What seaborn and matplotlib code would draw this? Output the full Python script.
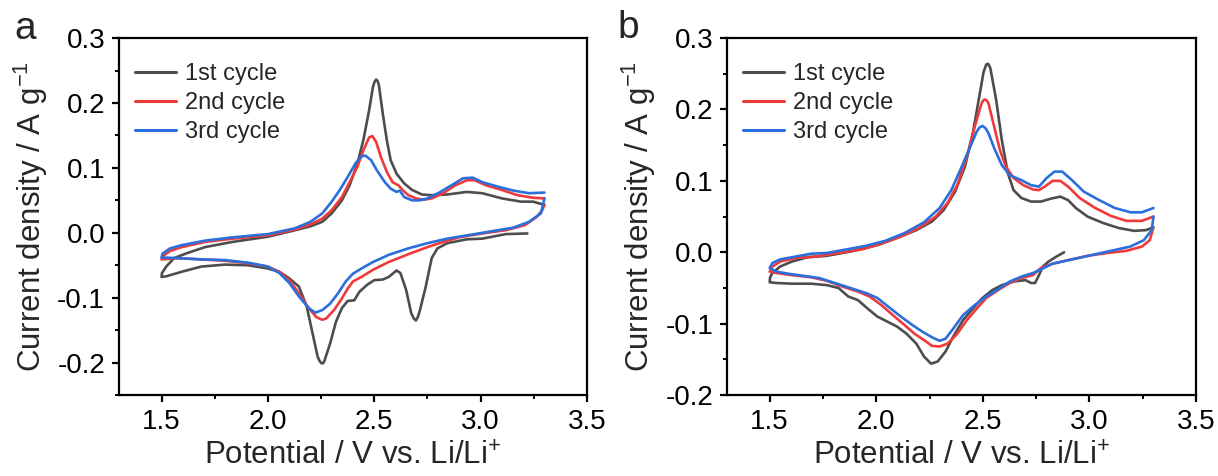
import matplotlib
matplotlib.use("Agg")
import matplotlib.pyplot as plt
from matplotlib.ticker import AutoMinorLocator
import seaborn as sns

# ---- cyclic voltammetry data (potential in V vs. Li/Li+, current in A/g) ----
# panel a
pot_a1 = [3.22, 3.118, 3.008, 2.935, 2.843, 2.797, 2.77, 2.742, 2.715, 2.705, 2.696, 2.686, 2.674, 2.65,
          2.623, 2.605, 2.568, 2.54, 2.50, 2.467, 2.43, 2.406, 2.375, 2.348, 2.32, 2.293, 2.265, 2.259,
          2.252, 2.244, 2.234, 2.21, 2.183, 2.146, 2.10, 2.054, 2.0, 1.907, 1.797, 1.687, 1.595, 1.522, 1.5,
          1.502, 1.522, 1.559, 1.614, 1.705, 1.834, 2.0, 2.128, 2.20, 2.256, 2.30, 2.348, 2.384, 2.421,
          2.449, 2.476, 2.494, 2.502, 2.509, 2.516, 2.522, 2.54, 2.559, 2.577, 2.605, 2.641, 2.678, 2.724,
          2.77, 2.843, 2.935, 3.008, 3.10, 3.19, 3.247, 3.30]
cur_a1 = [-0.001, -0.002, -0.009, -0.010, -0.016, -0.024, -0.039, -0.083, -0.119, -0.130, -0.135, -0.132,
          -0.124, -0.088, -0.062, -0.058, -0.068, -0.072, -0.073, -0.080, -0.091, -0.104, -0.105, -0.116,
          -0.137, -0.170, -0.198, -0.201, -0.201, -0.198, -0.191, -0.155, -0.114, -0.083, -0.070, -0.060,
          -0.055, -0.050, -0.049, -0.052, -0.060, -0.067, -0.068,
          -0.062, -0.052, -0.039, -0.032, -0.022, -0.014, -0.006, 0.004, 0.010, 0.017, 0.030, 0.050, 0.073,
          0.107, 0.143, 0.189, 0.225, 0.233, 0.236, 0.234, 0.227, 0.184, 0.143, 0.112, 0.091, 0.076, 0.066,
          0.059, 0.058, 0.059, 0.063, 0.061, 0.053, 0.048, 0.048, 0.043]

pot_a2 = [3.30, 3.29, 3.265, 3.21, 3.118, 3.008, 2.898, 2.825, 2.75, 2.66, 2.568, 2.494, 2.44, 2.40, 2.375,
          2.348, 2.311, 2.274, 2.256, 2.228, 2.192, 2.146, 2.10, 2.054, 2.0, 1.907, 1.797, 1.687, 1.577, 1.5,
          1.502, 1.54, 1.595, 1.705, 1.834, 2.0, 2.128, 2.20, 2.256, 2.30, 2.348, 2.384, 2.421, 2.449, 2.476,
          2.491, 2.509, 2.531, 2.559, 2.586, 2.614, 2.633, 2.66, 2.696, 2.733, 2.77, 2.825, 2.88, 2.935,
          2.972, 3.027, 3.10, 3.173, 3.247, 3.30]
cur_a2 = [0.043, 0.035, 0.025, 0.012, 0.004, -0.001, -0.007, -0.014, -0.022, -0.033, -0.045, -0.057, -0.068,
          -0.075, -0.086, -0.101, -0.119, -0.132, -0.134, -0.130, -0.116, -0.093, -0.073, -0.060, -0.052,
          -0.047, -0.043, -0.041, -0.039, -0.041,
          -0.037, -0.028, -0.022, -0.014, -0.009, -0.004, 0.005, 0.013, 0.022, 0.035, 0.055, 0.078, 0.102,
          0.127, 0.147, 0.149, 0.140, 0.117, 0.094, 0.078, 0.073, 0.066, 0.058, 0.053, 0.051, 0.053, 0.061,
          0.073, 0.081, 0.081, 0.073, 0.066, 0.058, 0.054, 0.053]

pot_a3 = [3.30, 3.284, 3.228, 3.155, 3.045, 2.935, 2.843, 2.75, 2.66, 2.568, 2.494, 2.44, 2.40, 2.366, 2.33,
          2.293, 2.256, 2.223, 2.192, 2.146, 2.10, 2.054, 2.0, 1.907, 1.797, 1.687, 1.577, 1.5,
          1.505, 1.54, 1.595, 1.705, 1.834, 2.0, 2.128, 2.20, 2.256, 2.30, 2.338, 2.375, 2.412, 2.44, 2.458,
          2.485, 2.513, 2.55, 2.577, 2.605, 2.62, 2.641, 2.678, 2.715, 2.75, 2.806, 2.862, 2.917, 2.963,
          3.008, 3.082, 3.155, 3.228, 3.30]
cur_a3 = [0.053, 0.030, 0.017, 0.008, 0.002, -0.004, -0.009, -0.016, -0.024, -0.034, -0.045, -0.055, -0.063,
          -0.075, -0.093, -0.109, -0.119, -0.123, -0.116, -0.098, -0.077, -0.062, -0.052, -0.046, -0.042,
          -0.041, -0.039, -0.038,
          -0.032, -0.024, -0.019, -0.012, -0.007, -0.002, 0.007, 0.017, 0.030, 0.048, 0.066, 0.086, 0.107,
          0.118, 0.119, 0.112, 0.096, 0.078, 0.068, 0.063, 0.065, 0.055, 0.050, 0.050, 0.053, 0.062, 0.073,
          0.084, 0.085, 0.078, 0.071, 0.065, 0.061, 0.062]

# panel b
pot_b1 = [2.881, 2.845, 2.808, 2.781, 2.763, 2.745, 2.726, 2.70, 2.644, 2.589, 2.544, 2.498, 2.453, 2.407,
          2.361, 2.325, 2.288, 2.257, 2.224, 2.188, 2.142, 2.097, 2.051, 2.005, 1.96, 1.914, 1.869, 1.823,
          1.768, 1.695, 1.604, 1.531, 1.5,
          1.502, 1.513, 1.549, 1.604, 1.677, 1.768, 1.878, 2.005, 2.097, 2.188, 2.261, 2.316, 2.37, 2.416,
          2.453, 2.489, 2.503, 2.516, 2.525, 2.535, 2.562, 2.589, 2.617, 2.644, 2.681, 2.726, 2.772, 2.818,
          2.863, 2.90, 2.936, 2.991, 3.064, 3.137, 3.21, 3.265, 3.30]
cur_b1 = [0.0, -0.006, -0.013, -0.020, -0.032, -0.043, -0.043, -0.039, -0.041, -0.046, -0.053, -0.064,
          -0.079, -0.095, -0.118, -0.139, -0.153, -0.156, -0.146, -0.128, -0.114, -0.104, -0.097, -0.090,
          -0.079, -0.067, -0.062, -0.050, -0.046, -0.044, -0.044, -0.043, -0.042,
          -0.035, -0.029, -0.020, -0.013, -0.007, -0.005, 0.001, 0.010, 0.020, 0.031, 0.043, 0.059, 0.085,
          0.120, 0.167, 0.228, 0.252, 0.263, 0.264, 0.258, 0.214, 0.157, 0.111, 0.087, 0.076, 0.071, 0.071,
          0.075, 0.078, 0.073, 0.062, 0.050, 0.041, 0.034, 0.030, 0.031, 0.035]

pot_b2 = [3.30, 3.283, 3.246, 3.173, 3.082, 2.991, 2.90, 2.827, 2.772, 2.735, 2.681, 2.626, 2.571, 2.516,
          2.471, 2.425, 2.38, 2.334, 2.297, 2.261, 2.224, 2.179, 2.133, 2.078, 2.024, 1.969, 1.914, 1.841,
          1.768, 1.695, 1.604, 1.531, 1.5,
          1.513, 1.549, 1.622, 1.714, 1.823, 1.932, 2.024, 2.115, 2.206, 2.279, 2.334, 2.38, 2.425, 2.462,
          2.489, 2.498, 2.507, 2.517, 2.526, 2.553, 2.58, 2.608, 2.644, 2.69, 2.735, 2.763, 2.79, 2.827,
          2.863, 2.90, 2.954, 3.027, 3.10, 3.173, 3.246, 3.30]
cur_b2 = [0.035, 0.017, 0.008, 0.002, -0.001, -0.005, -0.011, -0.016, -0.022, -0.032, -0.036, -0.043,
          -0.053, -0.064, -0.079, -0.095, -0.114, -0.128, -0.132, -0.131, -0.123, -0.114, -0.102, -0.088,
          -0.074, -0.062, -0.055, -0.048, -0.040, -0.035, -0.032, -0.029, -0.027,
          -0.020, -0.013, -0.008, -0.006, -0.001, 0.004, 0.012, 0.022, 0.035, 0.050, 0.069, 0.094, 0.134,
          0.176, 0.204, 0.211, 0.214, 0.213, 0.209, 0.176, 0.143, 0.120, 0.104, 0.094, 0.088, 0.087, 0.092,
          0.100, 0.100, 0.092, 0.076, 0.062, 0.051, 0.044, 0.044, 0.050]

pot_b3 = [3.30, 3.292, 3.255, 3.192, 3.10, 3.009, 2.918, 2.827, 2.772, 2.735, 2.681, 2.626, 2.571, 2.516,
          2.462, 2.407, 2.361, 2.325, 2.297, 2.261, 2.215, 2.17, 2.115, 2.06, 2.005, 1.951, 1.878, 1.805,
          1.732, 1.659, 1.586, 1.531, 1.5,
          1.513, 1.549, 1.622, 1.695, 1.768, 1.86, 1.951, 2.042, 2.133, 2.224, 2.297, 2.352, 2.398, 2.434,
          2.471, 2.485, 2.498, 2.512, 2.526, 2.553, 2.589, 2.626, 2.681, 2.726, 2.763, 2.799, 2.836, 2.872,
          2.918, 2.973, 3.046, 3.119, 3.192, 3.246, 3.30]
cur_b3 = [0.050, 0.031, 0.017, 0.008, 0.002, -0.004, -0.010, -0.016, -0.024, -0.029, -0.034, -0.041,
          -0.052, -0.062, -0.074, -0.088, -0.107, -0.121, -0.124, -0.119, -0.111, -0.102, -0.090, -0.077,
          -0.064, -0.057, -0.050, -0.043, -0.036, -0.033, -0.030, -0.027, -0.022,
          -0.015, -0.010, -0.006, -0.002, -0.001, 0.004, 0.009, 0.016, 0.027, 0.042, 0.062, 0.087, 0.118,
          0.143, 0.169, 0.175, 0.177, 0.174, 0.167, 0.146, 0.122, 0.108, 0.101, 0.094, 0.092, 0.104, 0.113,
          0.113, 0.101, 0.085, 0.073, 0.062, 0.056, 0.056, 0.062]

cycle_labels = ["1st cycle", "2nd cycle", "3rd cycle"]
cycle_colors = ["#4d4d4d", "#f03a3a", "#2a6fdc"]
panel_letters = ["a", "b"]
x_ticks = [1.5, 2.0, 2.5, 3.0, 3.5]
y_ticks_a = [-0.2, -0.1, 0.0, 0.1, 0.2, 0.3]
y_ticks_b = [-0.2, -0.1, 0.0, 0.1, 0.2, 0.3]

sns.set_theme(style="ticks")
plt.rcParams["font.family"] = ["Liberation Sans", "DejaVu Sans"]
plt.rcParams["mathtext.fontset"] = "custom"
plt.rcParams["mathtext.rm"] = "Liberation Sans"
plt.rcParams["mathtext.it"] = "Liberation Sans"
plt.rcParams["axes.unicode_minus"] = False

fig = plt.figure(figsize=(12.18, 4.76), dpi=100)
ax_a = fig.add_axes([0.0977, 0.170, 0.3842, 0.750])
ax_b = fig.add_axes([0.5969, 0.170, 0.3851, 0.750])

panels = [
    (ax_a, [(pot_a1, cur_a1), (pot_a2, cur_a2), (pot_a3, cur_a3)], (-0.25, 0.3), y_ticks_a),
    (ax_b, [(pot_b1, cur_b1), (pot_b2, cur_b2), (pot_b3, cur_b3)], (-0.2, 0.3), y_ticks_b),
]

for (ax, curves, ylim, yticks), letter in zip(panels, panel_letters):
    for (xs, ys), lab, col in zip(curves, cycle_labels, cycle_colors):
        sns.lineplot(x=xs, y=ys, sort=False, estimator=None, color=col,
                     linewidth=1.9, label=lab, ax=ax)
    ax.set_xlim(1.3, 3.5)
    ax.set_ylim(*ylim)
    ax.set_xticks(x_ticks)
    ax.set_yticks(yticks)
    ax.xaxis.set_minor_locator(AutoMinorLocator(2))
    ax.yaxis.set_minor_locator(AutoMinorLocator(2))
    ax.set_xticklabels([f"{v:.1f}" for v in x_ticks])
    ax.set_yticklabels([f"{v:.1f}" for v in yticks])
    for sp in ax.spines.values():
        sp.set_linewidth(1.6)
        sp.set_color("black")
    ax.tick_params(which="major", direction="out", length=5, width=1.6,
                   labelsize=20, pad=5, colors="black")
    ax.tick_params(which="minor", direction="out", length=3, width=1.4, colors="black")
    ax.tick_params(top=False, right=False, which="both")
    ax.set_xlabel("Potential / V vs. Li/Li$^{+}$", fontsize=22.5, labelpad=5)
    ax.set_ylabel("Current density / A g$^{-1}$", fontsize=22.5, labelpad=5)
    leg = ax.legend(loc="upper left", bbox_to_anchor=(0.035, 0.93), frameon=False,
                    fontsize=17, handlelength=1.7, handletextpad=0.4,
                    labelspacing=0.3, borderpad=0, borderaxespad=0)
    for ln in leg.get_lines():
        ln.set_linewidth(2.2)

fig.text(14 / 1218, 1 - 39 / 476, "a", fontsize=28, ha="left", va="baseline")
fig.text(617 / 1218, 1 - 38 / 476, "b", fontsize=28, ha="left", va="baseline")

fig.savefig("out.png", dpi=100)
